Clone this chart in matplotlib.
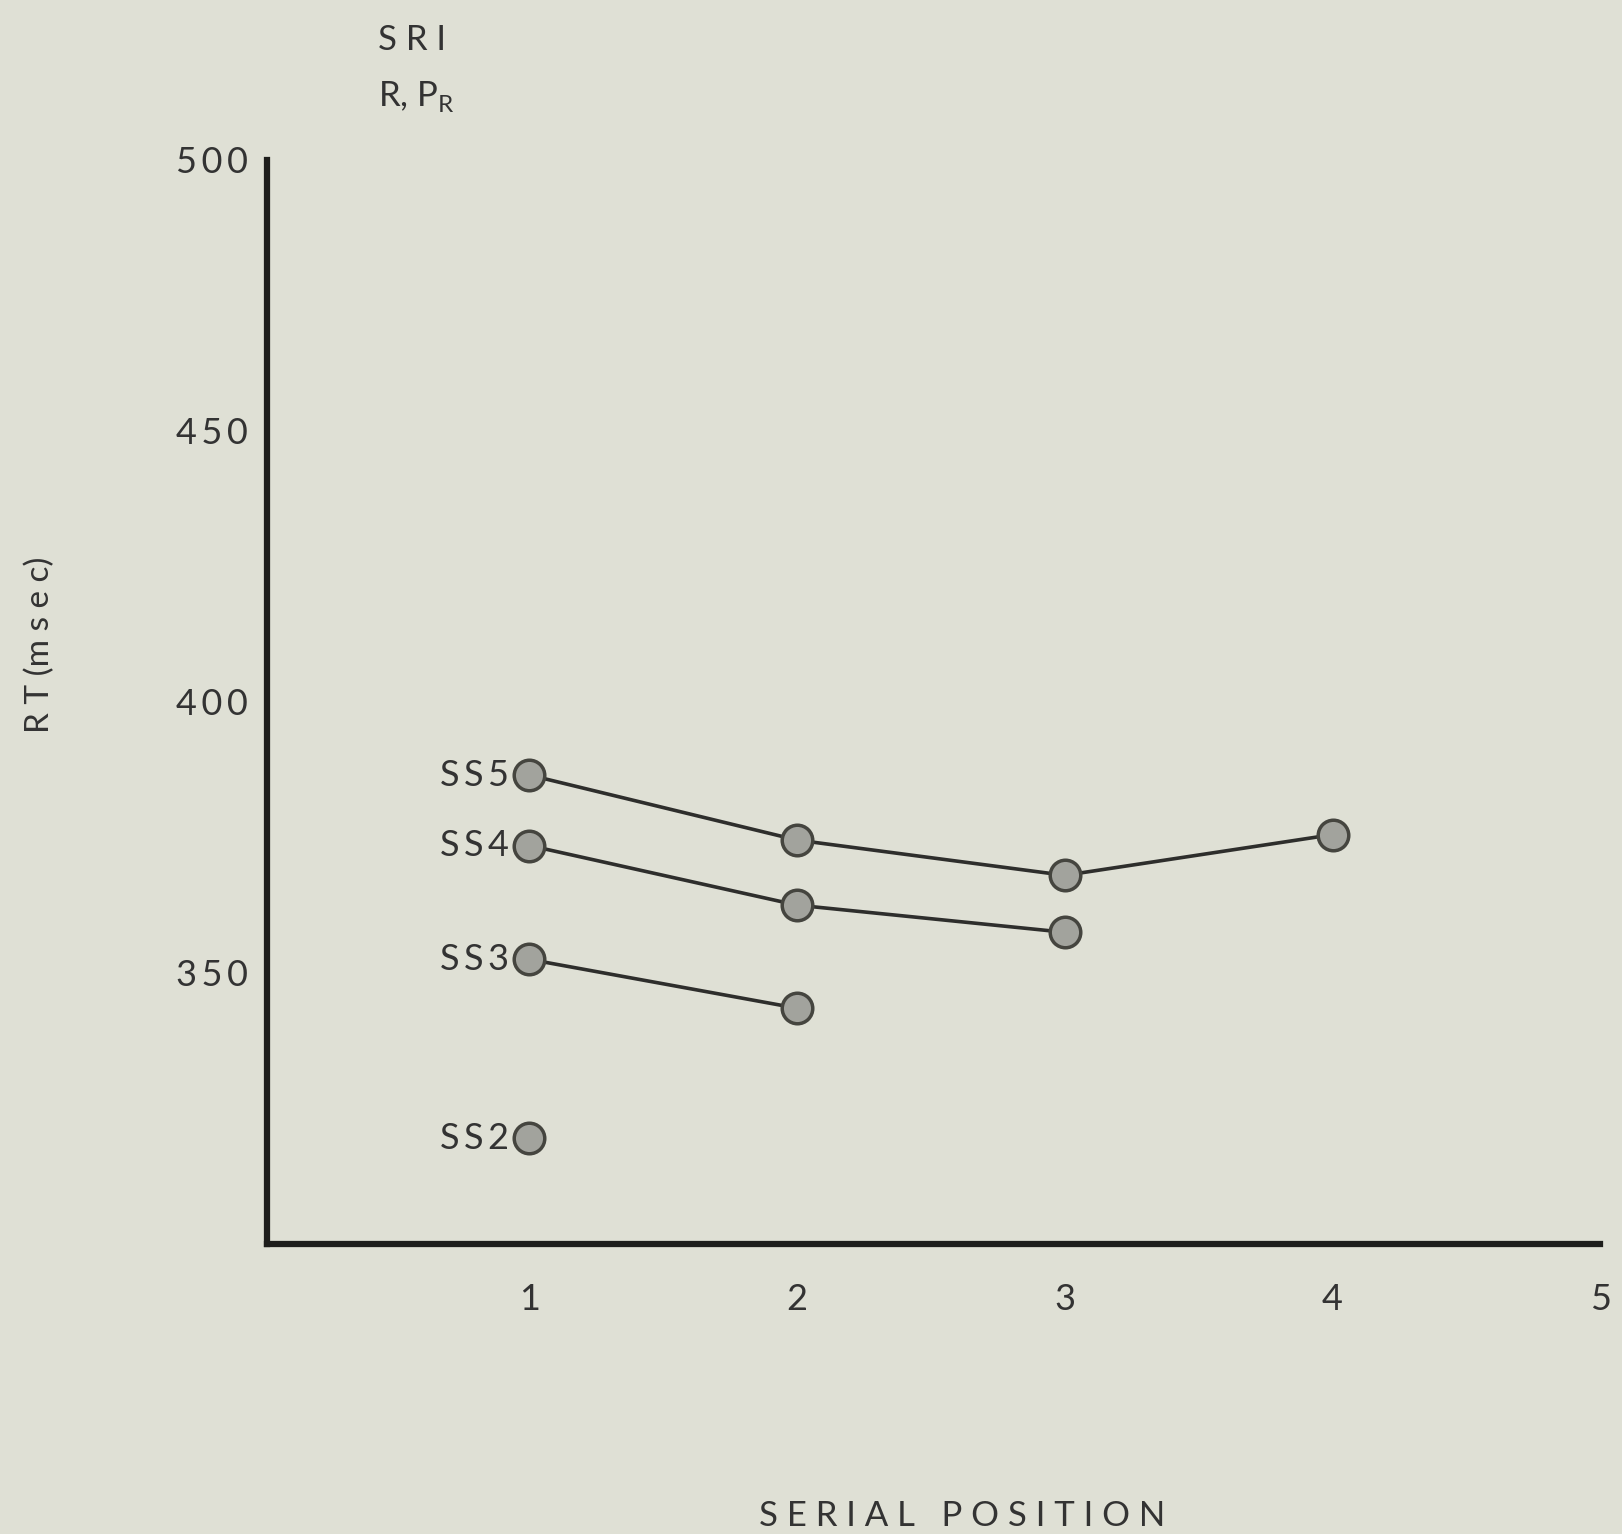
import matplotlib
matplotlib.use('Agg')
import matplotlib.pyplot as plt

# serial position vs RT, one series per set size
positions = [1, 2, 3, 4]
ss5 = [386.5, 374.5, 368.0, 375.5]
ss4 = [373.5, 362.5, 357.5]
ss3 = [352.5, 343.5]
ss2 = [319.5]
series = [('SS5', ss5), ('SS4', ss4), ('SS3', ss3), ('SS2', ss2)]

yticks = [350, 400, 450, 500]
xticks = [1, 2, 3, 4, 5]


def spaced(s):
    # the scanned lettering is spaced out a little
    return '\u2009'.join(str(s))


bg = '#dfe0d5'
ink = '#333333'
plt.rcParams['font.family'] = ['Lato', 'DejaVu Sans']

fig = plt.figure(figsize=(16.22, 15.34), dpi=100, facecolor=bg)
ax = fig.add_axes([0.1646, 0.189, 0.822, 0.707])
ax.set_facecolor(bg)

for name, vals in series:
    xs = positions[:len(vals)]
    ax.plot(xs, vals, color='#2e2e2c', linewidth=2.6, marker='o', markersize=22,
            markerfacecolor='#a2a39d', markeredgecolor='#45453f', markeredgewidth=2.5,
            zorder=3)
    ax.annotate(spaced(name), (xs[0], vals[0]), xytext=(-15, 0), textcoords='offset points',
                ha='right', va='center', fontsize=26, color=ink)

ax.set_xlim(0.02, 5)
ax.set_ylim(300, 500)
ax.set_xticks(xticks)
ax.set_yticks(yticks, [spaced(v) for v in yticks])
ax.tick_params(length=0, labelsize=26, colors=ink)
ax.tick_params(axis='x', pad=28)
ax.tick_params(axis='y', pad=14)

for side in ['top', 'right']:
    ax.spines[side].set_visible(False)
for side in ['left', 'bottom']:
    ax.spines[side].set_linewidth(4.5)
    ax.spines[side].set_color('#1e1e1c')

ax.set_ylabel('R T (m s e c)', fontsize=24, color=ink)
ax.yaxis.set_label_coords(-0.159, 0.553)
fig.text(0.593, 0.012, 'S E R I A L   P O S I T I O N', ha='center', va='center',
         fontsize=25, color=ink)
fig.text(0.233, 0.974, 'S R I', ha='left', va='center', fontsize=25, color=ink)
fig.text(0.233, 0.937, r'R, P$_\mathregular{R}$', ha='left', va='center', fontsize=25,
         color=ink)

fig.savefig('out.png', dpi=100, facecolor=bg)
